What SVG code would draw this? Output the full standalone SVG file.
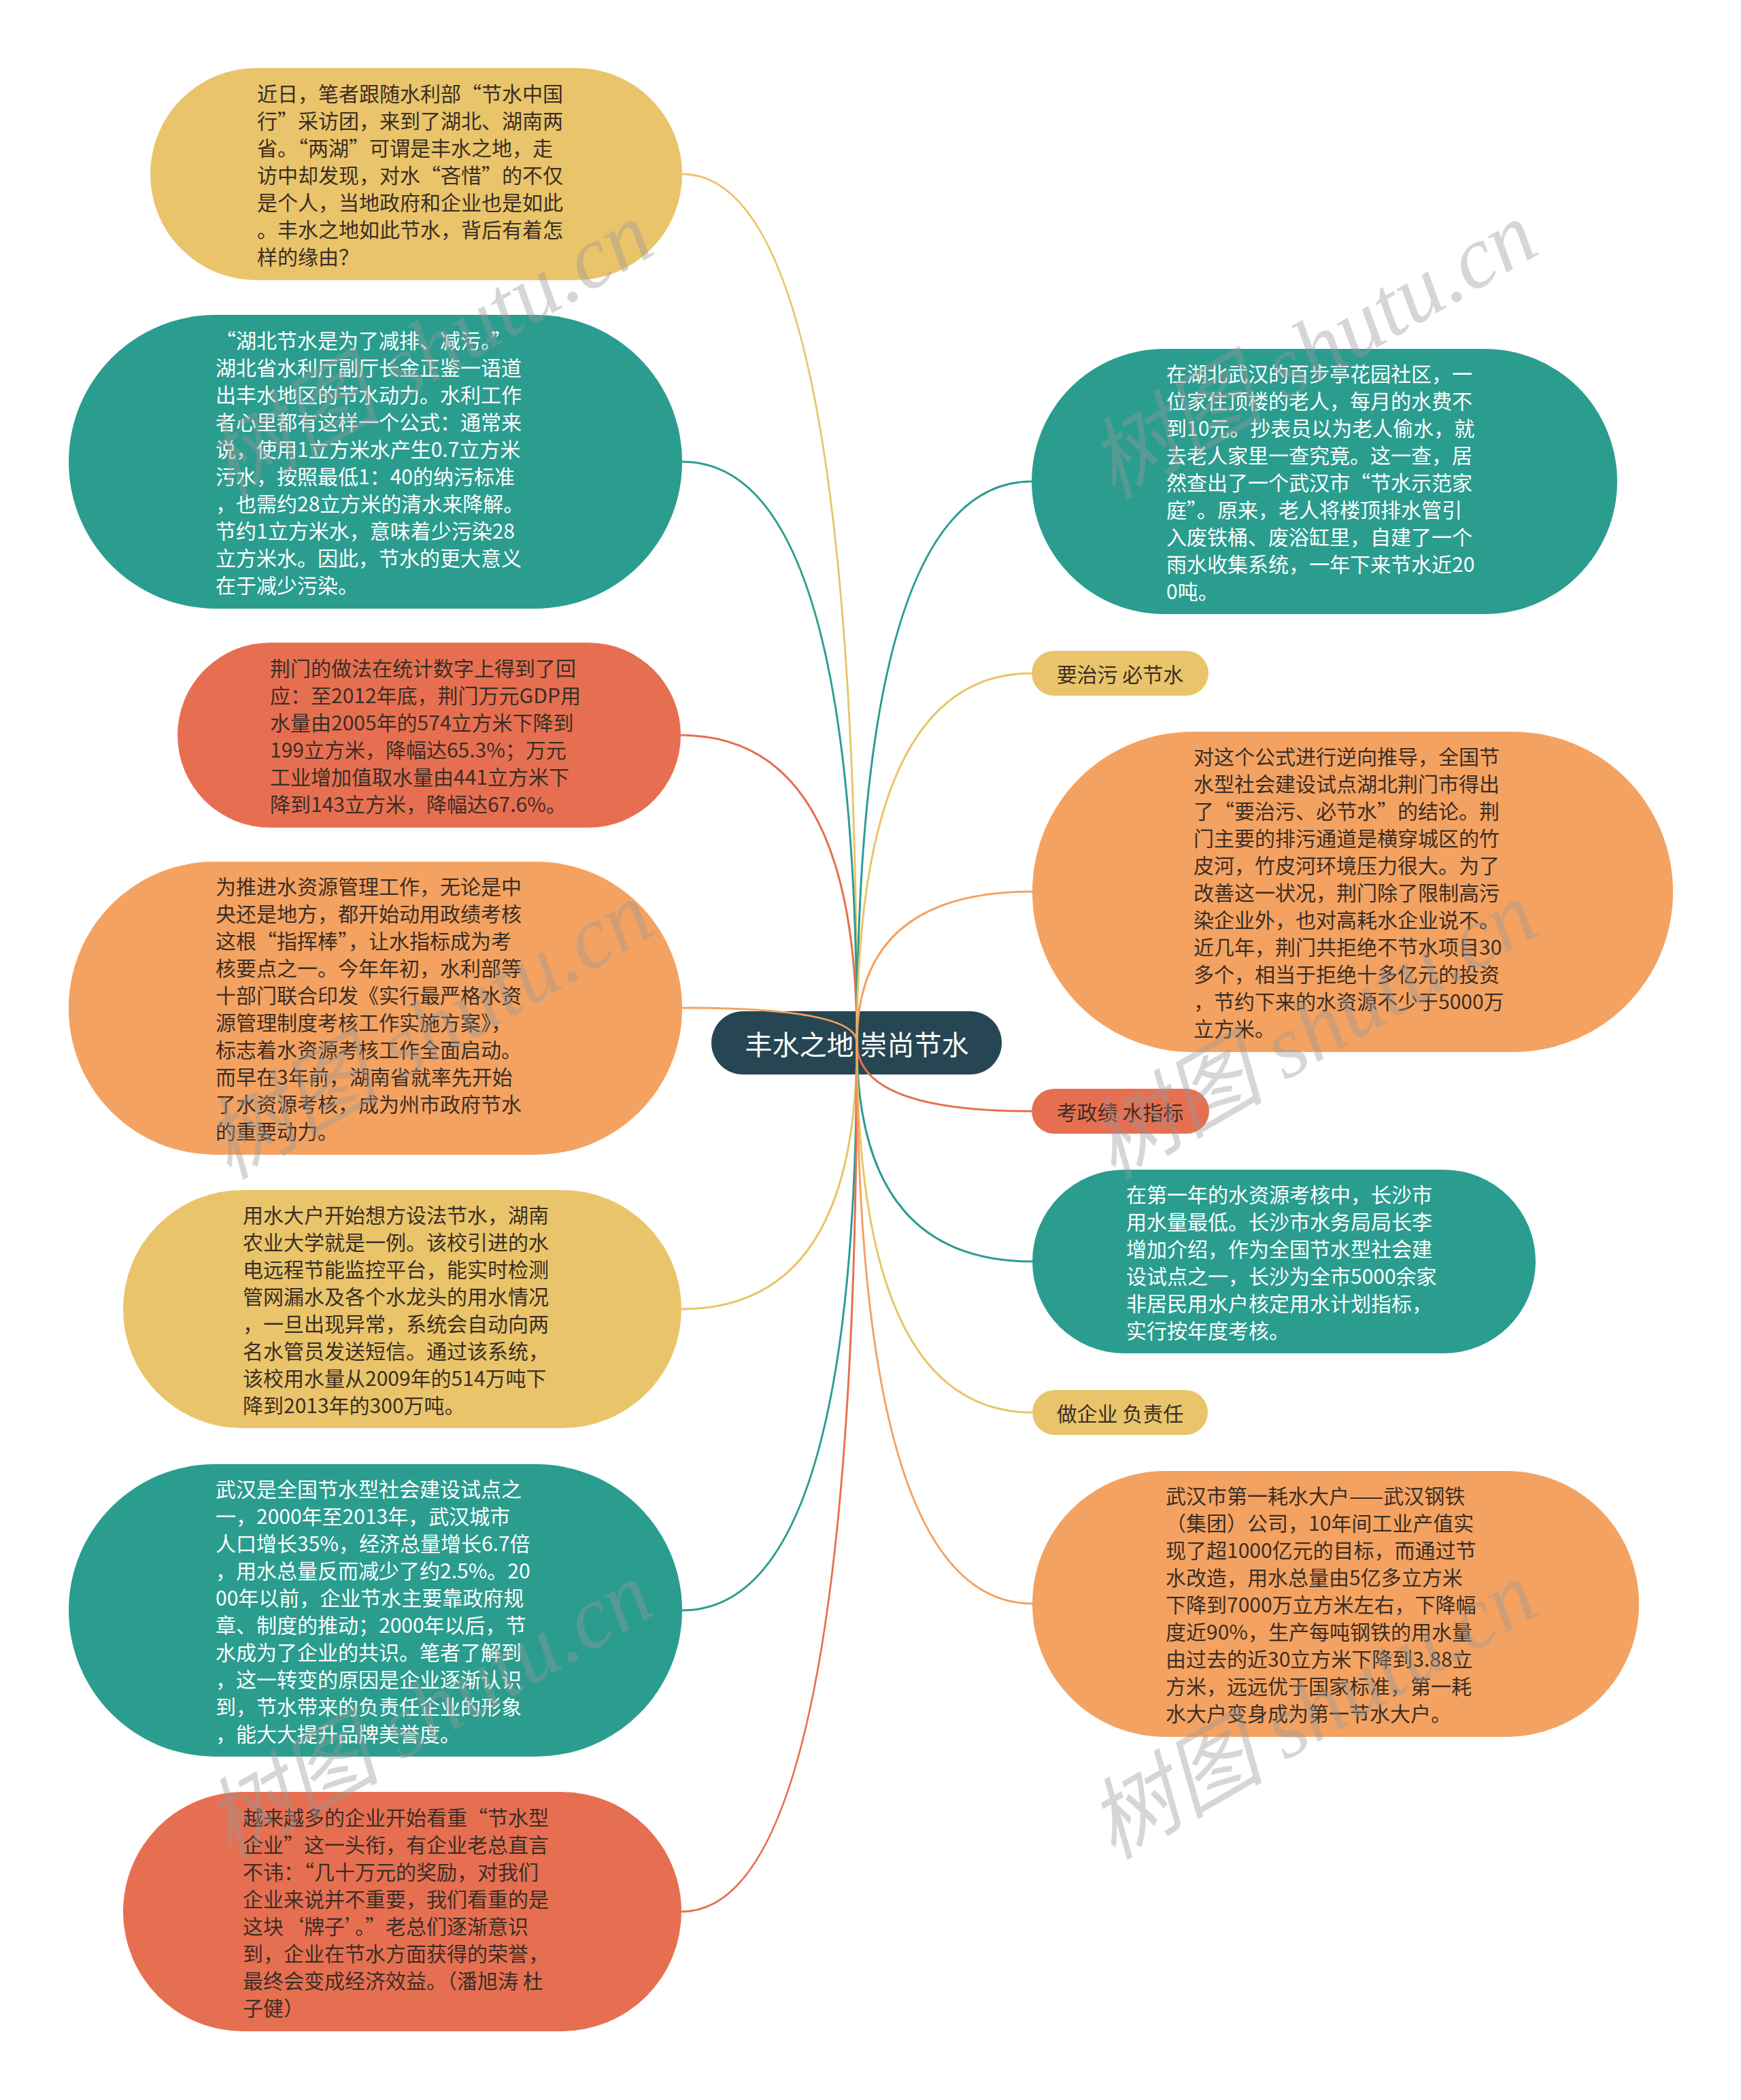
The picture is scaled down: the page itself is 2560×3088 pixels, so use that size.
<svg xmlns="http://www.w3.org/2000/svg" width="2560" height="3088" viewBox="0 0 2560 3088">
<style>
.t{font-family:"Noto Sans CJK SC","Noto Sans",sans-serif;font-size:30px;dominant-baseline:central}
.dk{fill:#3a2e26}
.wt{fill:#ffffff}
.root{font-family:"Noto Sans CJK SC","Noto Sans",sans-serif;font-size:40px;fill:#ffffff;dominant-baseline:central;text-anchor:middle}
.lbl{text-anchor:middle}
.c{fill:none;stroke-width:3}
.y{fill:#E9C46A}.g{fill:#2A9D8F}.o{fill:#F4A261}.r{fill:#E76F51}
.wm{font-family:"Liberation Serif","Noto Sans CJK SC",serif;font-style:italic;font-size:130px;fill:#999999;fill-opacity:0.4;text-anchor:middle;dominant-baseline:central}
</style>
<rect width="2560" height="3088" fill="#ffffff"/>
<g id="root">
<rect x="1046" y="1487" width="427" height="93" rx="46.5" fill="#264653"/>
<text class="root" x="1260" y="1534">丰水之地 崇尚节水</text>
</g>
<g id="connectors">
<path class="c" stroke="#E9C46A" d="M1260 1533 Q1260 256 1003 256"/>
<path class="c" stroke="#2A9D8F" d="M1260 1533 Q1260 679 1003 679"/>
<path class="c" stroke="#E76F51" d="M1260 1533 Q1260 1081 1001 1081"/>
<path class="c" stroke="#F4A261" d="M1260 1533 Q1260 1482 1003 1482"/>
<path class="c" stroke="#E9C46A" d="M1260 1533 Q1260 1925 1002 1925"/>
<path class="c" stroke="#2A9D8F" d="M1260 1533 Q1260 2368 1003 2368"/>
<path class="c" stroke="#E76F51" d="M1260 1533 Q1260 2811 1002 2811"/>
<path class="c" stroke="#2A9D8F" d="M1260 1533 Q1260 708 1517 708"/>
<path class="c" stroke="#E9C46A" d="M1260 1533 Q1260 990 1517 990"/>
<path class="c" stroke="#F4A261" d="M1260 1533 Q1260 1311 1518 1311"/>
<path class="c" stroke="#E76F51" d="M1260 1533 Q1260 1634 1517 1634"/>
<path class="c" stroke="#2A9D8F" d="M1260 1533 Q1260 1855 1518 1855"/>
<path class="c" stroke="#E9C46A" d="M1260 1533 Q1260 2077 1518 2077"/>
<path class="c" stroke="#F4A261" d="M1260 1533 Q1260 2358 1518 2358"/>
</g>
<g id="n1">
<rect class="y" x="221" y="100" width="782" height="312" rx="156"/>
<text class="t dk" x="378"><tspan x="378" y="136">近日，笔者跟随水利部“节水中国</tspan><tspan x="378" y="176">行”采访团，来到了湖北、湖南两</tspan><tspan x="378" y="216">省。“两湖”可谓是丰水之地，走</tspan><tspan x="378" y="256">访中却发现，对水“吝惜”的不仅</tspan><tspan x="378" y="296">是个人，当地政府和企业也是如此</tspan><tspan x="378" y="336">。丰水之地如此节水，背后有着怎</tspan><tspan x="378" y="376">样的缘由？</tspan></text>
</g>
<g id="n2">
<rect class="g" x="101" y="463" width="902" height="432" rx="216"/>
<text class="t wt"><tspan x="317" y="499">“湖北节水是为了减排、减污。”</tspan><tspan x="317" y="539">湖北省水利厅副厅长金正鉴一语道</tspan><tspan x="317" y="579">出丰水地区的节水动力。水利工作</tspan><tspan x="317" y="619">者心里都有这样一个公式：通常来</tspan><tspan x="317" y="659">说，使用1立方米水产生0.7立方米</tspan><tspan x="317" y="699">污水，按照最低1：40的纳污标准</tspan><tspan x="317" y="739">，也需约28立方米的清水来降解。</tspan><tspan x="317" y="779">节约1立方米水，意味着少污染28</tspan><tspan x="317" y="819">立方米水。因此，节水的更大意义</tspan><tspan x="317" y="859">在于减少污染。</tspan></text>
</g>
<g id="n3">
<rect class="r" x="261" y="945" width="740" height="272" rx="136"/>
<text class="t dk"><tspan x="397" y="981">荆门的做法在统计数字上得到了回</tspan><tspan x="397" y="1021">应：至2012年底，荆门万元GDP用</tspan><tspan x="397" y="1061">水量由2005年的574立方米下降到</tspan><tspan x="397" y="1101">199立方米，降幅达65.3%；万元</tspan><tspan x="397" y="1141">工业增加值取水量由441立方米下</tspan><tspan x="397" y="1181">降到143立方米，降幅达67.6%。</tspan></text>
</g>
<g id="n4">
<rect class="o" x="101" y="1267" width="902" height="431" rx="215"/>
<text class="t dk"><tspan x="317" y="1302">为推进水资源管理工作，无论是中</tspan><tspan x="317" y="1342">央还是地方，都开始动用政绩考核</tspan><tspan x="317" y="1382">这根“指挥棒”，让水指标成为考</tspan><tspan x="317" y="1422">核要点之一。今年年初，水利部等</tspan><tspan x="317" y="1462">十部门联合印发《实行最严格水资</tspan><tspan x="317" y="1502">源管理制度考核工作实施方案》，</tspan><tspan x="317" y="1542">标志着水资源考核工作全面启动。</tspan><tspan x="317" y="1582">而早在3年前，湖南省就率先开始</tspan><tspan x="317" y="1622">了水资源考核，成为州市政府节水</tspan><tspan x="317" y="1662">的重要动力。</tspan></text>
</g>
<g id="n5">
<rect class="y" x="181" y="1750" width="821" height="350" rx="175"/>
<text class="t dk"><tspan x="357" y="1785">用水大户开始想方设法节水，湖南</tspan><tspan x="357" y="1825">农业大学就是一例。该校引进的水</tspan><tspan x="357" y="1865">电远程节能监控平台，能实时检测</tspan><tspan x="357" y="1905">管网漏水及各个水龙头的用水情况</tspan><tspan x="357" y="1945">，一旦出现异常，系统会自动向两</tspan><tspan x="357" y="1985">名水管员发送短信。通过该系统，</tspan><tspan x="357" y="2025">该校用水量从2009年的514万吨下</tspan><tspan x="357" y="2065">降到2013年的300万吨。</tspan></text>
</g>
<g id="n6">
<rect class="g" x="101" y="2153" width="902" height="430" rx="215"/>
<text class="t wt"><tspan x="317" y="2188">武汉是全国节水型社会建设试点之</tspan><tspan x="317" y="2228">一，2000年至2013年，武汉城市</tspan><tspan x="317" y="2268">人口增长35%，经济总量增长6.7倍</tspan><tspan x="317" y="2308">，用水总量反而减少了约2.5%。20</tspan><tspan x="317" y="2348">00年以前，企业节水主要靠政府规</tspan><tspan x="317" y="2388">章、制度的推动；2000年以后，节</tspan><tspan x="317" y="2428">水成为了企业的共识。笔者了解到</tspan><tspan x="317" y="2468">，这一转变的原因是企业逐渐认识</tspan><tspan x="317" y="2508">到，节水带来的负责任企业的形象</tspan><tspan x="317" y="2548">，能大大提升品牌美誉度。</tspan></text>
</g>
<g id="n7">
<rect class="r" x="181" y="2635" width="821" height="352" rx="176"/>
<text class="t dk"><tspan x="357" y="2671">越来越多的企业开始看重“节水型</tspan><tspan x="357" y="2711">企业”这一头衔，有企业老总直言</tspan><tspan x="357" y="2751">不讳：“几十万元的奖励，对我们</tspan><tspan x="357" y="2791">企业来说并不重要，我们看重的是</tspan><tspan x="357" y="2831">这块‘牌子’。”老总们逐渐意识</tspan><tspan x="357" y="2871">到，企业在节水方面获得的荣誉，</tspan><tspan x="357" y="2911">最终会变成经济效益。（潘旭涛 杜</tspan><tspan x="357" y="2951">子健）</tspan></text>
</g>
<g id="n8">
<rect class="g" x="1517" y="513" width="861" height="390" rx="195"/>
<text class="t wt"><tspan x="1715" y="548">在湖北武汉的百步亭花园社区，一</tspan><tspan x="1715" y="588">位家住顶楼的老人，每月的水费不</tspan><tspan x="1715" y="628">到10元。抄表员以为老人偷水，就</tspan><tspan x="1715" y="668">去老人家里一查究竟。这一查，居</tspan><tspan x="1715" y="708">然查出了一个武汉市“节水示范家</tspan><tspan x="1715" y="748">庭”。原来，老人将楼顶排水管引</tspan><tspan x="1715" y="788">入废铁桶、废浴缸里，自建了一个</tspan><tspan x="1715" y="828">雨水收集系统，一年下来节水近20</tspan><tspan x="1715" y="868">0吨。</tspan></text>
</g>
<g id="n9">
<rect class="y" x="1517" y="957" width="260" height="66" rx="33"/>
<text class="t dk lbl" x="1647" y="990">要治污 必节水</text>
</g>
<g id="n10">
<rect class="o" x="1518" y="1076" width="942" height="471" rx="235"/>
<text class="t dk"><tspan x="1755" y="1111">对这个公式进行逆向推导，全国节</tspan><tspan x="1755" y="1151">水型社会建设试点湖北荆门市得出</tspan><tspan x="1755" y="1191">了“要治污、必节水”的结论。荆</tspan><tspan x="1755" y="1231">门主要的排污通道是横穿城区的竹</tspan><tspan x="1755" y="1271">皮河，竹皮河环境压力很大。为了</tspan><tspan x="1755" y="1311">改善这一状况，荆门除了限制高污</tspan><tspan x="1755" y="1351">染企业外，也对高耗水企业说不。</tspan><tspan x="1755" y="1391">近几年，荆门共拒绝不节水项目30</tspan><tspan x="1755" y="1431">多个，相当于拒绝十多亿元的投资</tspan><tspan x="1755" y="1471">，节约下来的水资源不少于5000万</tspan><tspan x="1755" y="1511">立方米。</tspan></text>
</g>
<g id="n11">
<rect class="r" x="1517" y="1601" width="261" height="66" rx="33"/>
<text class="t dk lbl" x="1647" y="1634">考政绩 水指标</text>
</g>
<g id="n12">
<rect class="g" x="1518" y="1720" width="740" height="270" rx="135"/>
<text class="t wt"><tspan x="1656" y="1755">在第一年的水资源考核中，长沙市</tspan><tspan x="1656" y="1795">用水量最低。长沙市水务局局长李</tspan><tspan x="1656" y="1835">增加介绍，作为全国节水型社会建</tspan><tspan x="1656" y="1875">设试点之一，长沙为全市5000余家</tspan><tspan x="1656" y="1915">非居民用水户核定用水计划指标，</tspan><tspan x="1656" y="1955">实行按年度考核。</tspan></text>
</g>
<g id="n13">
<rect class="y" x="1518" y="2044" width="258" height="66" rx="33"/>
<text class="t dk lbl" x="1647" y="2077">做企业 负责任</text>
</g>
<g id="n14">
<rect class="o" x="1518" y="2163" width="892" height="391" rx="195"/>
<text class="t dk"><tspan x="1714" y="2198">武汉市第一耗水大户——武汉钢铁</tspan><tspan x="1714" y="2238">（集团）公司，10年间工业产值实</tspan><tspan x="1714" y="2278">现了超1000亿元的目标，而通过节</tspan><tspan x="1714" y="2318">水改造，用水总量由5亿多立方米</tspan><tspan x="1714" y="2358">下降到7000万立方米左右，下降幅</tspan><tspan x="1714" y="2398">度近90%，生产每吨钢铁的用水量</tspan><tspan x="1714" y="2438">由过去的近30立方米下降到3.88立</tspan><tspan x="1714" y="2478">方米，远远优于国家标准，第一耗</tspan><tspan x="1714" y="2518">水大户变身成为第一节水大户。</tspan></text>
</g>
<g id="watermarks">
<text class="wm" transform="translate(630 515) rotate(-30)">树图 shutu.cn</text>
<text class="wm" transform="translate(1930 515) rotate(-30)">树图 shutu.cn</text>
<text class="wm" transform="translate(630 1515) rotate(-30)">树图 shutu.cn</text>
<text class="wm" transform="translate(1930 1515) rotate(-30)">树图 shutu.cn</text>
<text class="wm" transform="translate(630 2515) rotate(-30)">树图 shutu.cn</text>
<text class="wm" transform="translate(1930 2515) rotate(-30)">树图 shutu.cn</text>
</g>
</svg>
